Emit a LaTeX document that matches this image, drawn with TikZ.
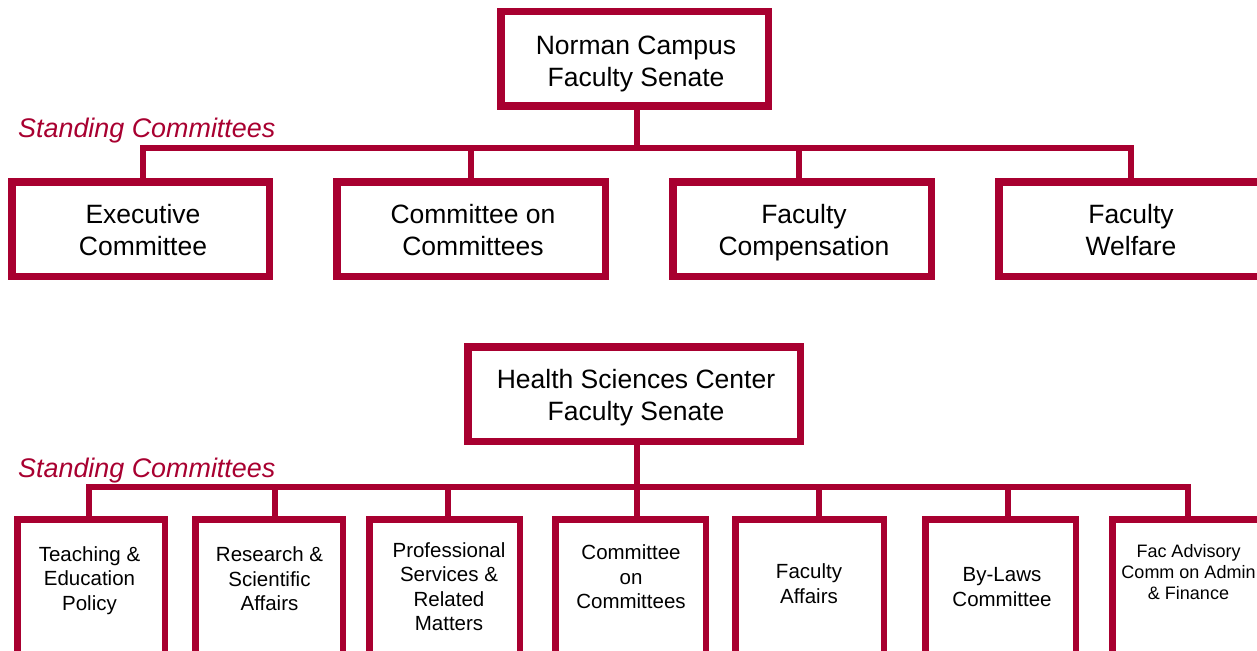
\documentclass[tikz,border=0pt]{standalone}
\usepackage{fontspec}
\setmainfont{Liberation Sans}
\definecolor{crim}{RGB}{168,0,48}
\begin{document}
\begin{tikzpicture}[x=1pt,y=-1pt,
  bigbox/.style={draw=crim, line width=7.5pt, inner sep=0pt, minimum height=94.5pt},
  smallbox/.style={draw=crim, line width=6.5pt, inner sep=0pt, minimum height=177.5pt},
  biglbl/.style={inner sep=0pt, align=center, font=\fontsize{26.5}{32}\selectfont},
  lbl/.style={inner sep=0pt, align=center, font=\fontsize{20.5}{24.5}\selectfont},
  tinylbl/.style={inner sep=0pt, align=center, font=\fontsize{18}{21}\selectfont},
  head/.style={inner sep=0pt, anchor=base west, text=crim, font=\fontsize{26.9}{32}\selectfont\itshape},
  conn/.style={draw=crim, line width=6pt}]
\useasboundingbox (0,0) rectangle (1257,650);
\clip (0,0) rectangle (1257,650);

% ---- Norman Campus ----
\node[bigbox, minimum width=267.5pt] (norman) at (634.5,59) {};
\node[biglbl] (normanT) at (636,64) {Norman Campus\\Faculty Senate};
\node[head] (sc1) at (18,137) {Standing Committees};

\node[bigbox, minimum width=257.5pt] (exec) at (140.5,229) {};
\node[bigbox, minimum width=268.5pt] (coc) at (471,229) {};
\node[bigbox, minimum width=258.5pt] (comp) at (802,229) {};
\node[bigbox, minimum width=264.5pt] (welf) at (1131,229) {};
\node[biglbl] (execT) at (143,230) {Executive\\Committee};
\node[biglbl] (cocT) at (473,230) {Committee on\\Committees};
\node[biglbl] (compT) at (804,233) {Faculty\\Compensation};
\node[biglbl] (welfT) at (1131,230) {Faculty\\Welfare};

\coordinate (nbus) at (637,148);
\draw[conn] ([xshift=2.5pt]norman.south) -- (nbus);
\draw[conn] (nbus) -| ([xshift=2.5pt]exec.north);
\draw[conn] (nbus) -| (coc.north);
\draw[conn] (nbus) -| ([xshift=-3pt]comp.north);
\draw[conn] (nbus) -| (welf.north);

% ---- Health Sciences Center ----
\node[bigbox, minimum width=332.5pt] (hsc) at (634,394) {};
\node[biglbl] (hscT) at (636,398) {Health Sciences Center\\Faculty Senate};
\node[head] (sc2) at (18,477) {Standing Committees};

\node[smallbox, minimum width=147.5pt] (b1) at (91,608) {};
\node[smallbox, minimum width=147.5pt] (b2) at (269,608) {};
\node[smallbox, minimum width=150.5pt] (b3) at (444.5,608) {};
\node[smallbox, minimum width=150.5pt] (b4) at (630.5,608) {};
\node[smallbox, minimum width=148.5pt] (b5) at (809.5,608) {};
\node[smallbox, minimum width=150.5pt] (b6) at (1000.5,608) {};
\node[smallbox, minimum width=150.5pt] (b7) at (1187.5,608) {};

\node[lbl] (b1T) at (89.5,580.5) {Teaching \&\\Education\\Policy};
\node[lbl] (b2T) at (269.5,579) {Research \&\\Scientific\\Affairs};
\node[lbl] (b3T) at (449,586.5) {Professional\\Services \&\\Related\\Matters};
\node[lbl] (b4T) at (631,577) {Committee\\on\\Committees};
\node[lbl] (b5T) at (809,583.5) {Faculty\\Affairs};
\node[lbl] (b6T) at (1002,587) {By-Laws\\Committee};
\node[tinylbl] (b7T) at (1188.5,572) {Fac Advisory\\Comm on Admin\\\& Finance};

\coordinate (hbus) at (637,487);
\draw[conn] ([xshift=3pt]hsc.south) -- (hbus);
\draw[conn] (hbus) -| ([xshift=-2pt]b1.north);
\draw[conn] (hbus) -| ([xshift=6pt]b2.north);
\draw[conn] (hbus) -| ([xshift=3.5pt]b3.north);
\draw[conn] (hbus) -- ([xshift=6.5pt]b4.north);
\draw[conn] (hbus) -| ([xshift=9.5pt]b5.north);
\draw[conn] (hbus) -| ([xshift=7.5pt]b6.north);
\draw[conn] (hbus) -| ([xshift=0.5pt]b7.north);
\end{tikzpicture}
\end{document}
